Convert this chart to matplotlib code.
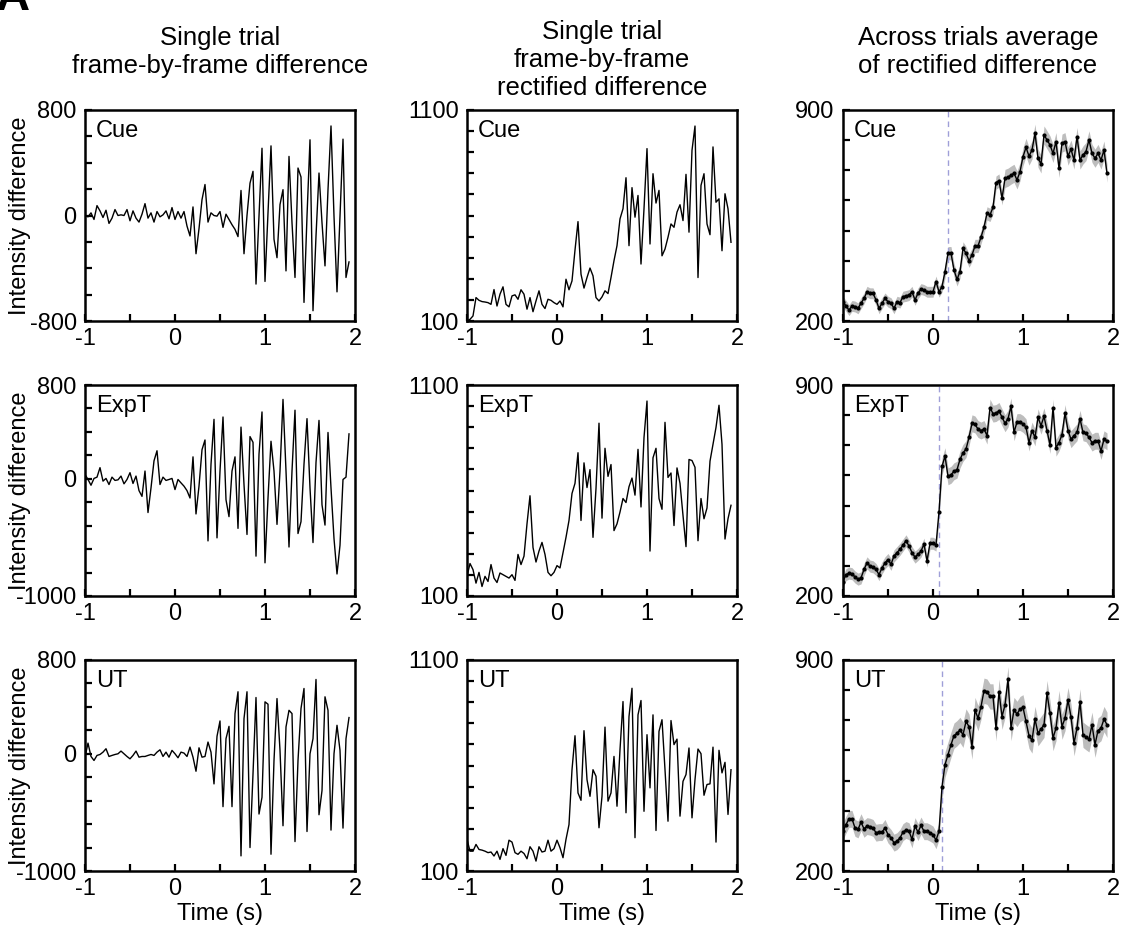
import numpy as np
import matplotlib
matplotlib.use("Agg")
import matplotlib.pyplot as plt
from matplotlib.ticker import FixedLocator, FuncFormatter

plt.rcParams['font.family'] = ['Liberation Sans', 'DejaVu Sans']

# ---------------- data (sampled at 30 frames/s from t = -1 s) ----------------
frame_rate = 30.0
t_start = -1.0

cue_diff = [0, -10, 20, -30, 75, 35, -15, 40, -60, -20, 45, 0, 5, 0, 45, -40, 35, -20, -50, 10,
            90, -20, 20, -50, 30, -10, 5, 35, -25, 60, -30, 30, -20, 30, -80, -155, 65, -290, -100, 120,
            235, -50, 20, 0, -5, 30, -90, 10, -30, -70, -105, -160, 190, -290, 0, 245, 335, -520, -5, 510,
            -500, 20, 528, -180, -320, 83, 196, -420, 448, -55, -470, 360, 292, -659, -5, 574, -722, -156, 322, -55,
            -382, 196, 679, -5, -579, -5, 579, -470, -352]
cue_rect = [100, 108, 124, 211, 198, 192, 190, 187, 179, 249,
            171, 227, 262, 179, 167, 219, 224, 203, 248, 227,
            156, 211, 144, 195, 243, 179, 159, 203, 198, 187,
            179, 195, 167, 298, 248, 290, 436, 571, 322, 256,
            306, 351, 314, 211, 195, 214, 243, 230, 306, 386,
            457, 584, 632, 779, 457, 732, 592, 695, 370, 632,
            917, 465, 798, 659, 719, 409, 441, 497, 560, 544,
            616, 651, 576, 795, 521, 909, 1024, 306, 743, 798,
            560, 509, 925, 663, 679, 433, 703, 632, 473]
cue_avg = [264, 250, 236, 250, 248, 242, 259, 275, 297, 292,
           292, 270, 242, 259, 275, 264, 259, 242, 264, 261,
           281, 283, 286, 297, 270, 292, 306, 303, 297, 297,
           297, 331, 297, 314, 364, 425, 425, 369, 338, 364,
           441, 425, 400, 419, 449, 449, 478, 511, 557, 552,
           577, 659, 666, 607, 673, 677, 684, 690, 668, 695,
           745, 776, 747, 767, 823, 740, 721, 817, 801, 784,
           756, 795, 706, 790, 795, 747, 770, 734, 812, 734,
           751, 762, 801, 756, 740, 756, 734, 767, 690]

expt_diff = [37, -6, -55, 3, 14, 95, -20, 3, -49, 14,
             -14, -9, 23, -43, -6, 52, -40, 23, -101, -150,
             66, -288, -78, 153, 239, -49, 14, -14, -6, 3,
             -92, -6, -35, -63, -101, -164, 187, -300, -63, 248,
             331, -530, 124, 507, -504, 66, 527, -179, -323, 66,
             187, -423, 441, -49, -475, 360, 311, -660, 210, 570,
             -717, -164, 320, 66, -389, 66, 677, 66, -582, 66,
             585, -467, -366, 124, 513, -78, -544, 138, 498, -222,
             -395, 395, -78, -510, -812, -567, -6, 14, 383]
expt_rect = [193, 254, 225, 161, 212, 145, 193, 169, 249, 185,
             164, 209, 201, 193, 185, 201, 174, 297, 249, 289,
             442, 575, 330, 261, 313, 354, 297, 212, 196, 212,
             244, 233, 305, 378, 458, 586, 634, 779, 458, 731,
             614, 699, 378, 610, 919, 469, 800, 667, 723, 410,
             442, 498, 562, 543, 618, 659, 578, 795, 522, 851,
             1024, 313, 755, 800, 562, 511, 923, 662, 683, 434,
             707, 634, 482, 334, 747, 742, 710, 362, 562, 466,
             517, 739, 819, 899, 1004, 819, 370, 466, 530]
expt_avg = [248, 271, 276, 274, 263, 256, 260, 288, 310, 299,
            297, 288, 271, 293, 310, 321, 305, 333, 344, 355,
            369, 383, 366, 344, 329, 338, 349, 372, 316, 375,
            375, 369, 479, 630, 664, 597, 602, 614, 619, 653,
            675, 687, 726, 773, 769, 754, 749, 754, 732, 825,
            805, 807, 814, 793, 773, 788, 829, 743, 777, 777,
            771, 760, 709, 749, 726, 793, 765, 796, 749, 701,
            825, 692, 709, 735, 807, 749, 720, 732, 743, 788,
            743, 740, 726, 709, 715, 715, 681, 720, 713]

ut_diff = [-29, 91, -23, -57, -14, -6, 14, 43, -23, -14,
           -6, 0, 23, 0, -23, -43, -14, 23, -29, -23,
           -23, -14, -6, -14, 14, 34, -23, 14, -29, 29,
           0, -34, 14, 6, -23, 57, -29, -149, 51, -29,
           -23, 100, 14, -257, 149, 280, -451, 129, 234, -451,
           343, 529, -871, 300, 529, -800, -171, 480, -514, -371,
           443, 423, -857, -57, 471, 29, -614, 229, 371, 343,
           -749, -57, 386, 557, -663, 0, 129, 634, -520, -314,
           486, 371, -651, 0, 243, 29, -634, 129, 309]
ut_rect = [250, 194, 194, 226, 202, 199, 194, 187, 190, 171,
           194, 155, 206, 174, 246, 237, 187, 179, 194, 183,
           158, 215, 194, 147, 215, 190, 194, 246, 194, 206,
           246, 210, 163, 250, 320, 580, 741, 470, 435, 765,
           533, 454, 580, 549, 305, 454, 782, 431, 470, 643,
           407, 675, 903, 376, 832, 966, 258, 840, 908, 383,
           746, 494, 840, 292, 762, 817, 580, 336, 813, 699,
           725, 360, 525, 557, 683, 352, 533, 678, 656, 459,
           510, 513, 687, 237, 672, 565, 615, 368, 580]
ut_avg = [332, 354, 373, 373, 343, 338, 362, 340, 349, 347,
          343, 327, 329, 329, 343, 321, 310, 294, 299, 310,
          329, 336, 332, 305, 349, 329, 351, 332, 332, 327,
          321, 302, 332, 479, 553, 586, 619, 649, 657, 668,
          652, 696, 679, 613, 734, 707, 745, 798, 795, 779,
          779, 674, 795, 712, 751, 836, 674, 734, 721, 737,
          743, 696, 649, 633, 704, 657, 671, 685, 790, 723,
          641, 674, 757, 679, 707, 767, 712, 624, 674, 762,
          652, 644, 637, 685, 619, 666, 674, 704, 685]

# SEM levels (value, number of frames)
cue_sem_levels, cue_sem_counts = [18, 22, 30], [34, 20, 35]
expt_sem_levels, expt_sem_counts = [20, 28], [32, 57]
ut_sem_levels, ut_sem_counts = [28, 42], [33, 56]

onset_times = [0.17, 0.07, 0.10]   # dashed marker in average panels
conditions = ["Cue", "ExpT", "UT"]
col_titles = ["Single trial\nframe-by-frame difference",
              "Single trial\nframe-by-frame\nrectified difference",
              "Across trials average\nof rectified difference"]

diff_series = [cue_diff, expt_diff, ut_diff]
rect_series = [cue_rect, expt_rect, ut_rect]
avg_series = [cue_avg, expt_avg, ut_avg]
sem_series = [(cue_sem_levels, cue_sem_counts), (expt_sem_levels, expt_sem_counts),
              (ut_sem_levels, ut_sem_counts)]

diff_ylims = [(-800, 800), (-1000, 800), (-1000, 800)]
diff_labels = [[-800, 0, 800], [-1000, 0, 800], [-1000, 0, 800]]

# ---------------- figure ----------------
W, H = 1122, 932
fig = plt.figure(figsize=(W / 100, H / 100), dpi=100)

lefts = [85, 467, 843]
tops = [110, 385, 660]
aw, ah = 270, 211

FS = 17


def make_ax(col, row):
    l = lefts[col] / W
    b = 1 - (tops[row] + ah) / H
    ax = fig.add_axes([l, b, aw / W, ah / H])
    for s in ax.spines.values():
        s.set_linewidth(1.8)
    ax.tick_params(direction='in', length=5, width=1.6, labelsize=FS,
                   top=False, right=False)
    ax.tick_params(axis='x', pad=5)
    ax.tick_params(axis='y', pad=6)
    ax.set_xlim(-1, 2)
    ax.xaxis.set_major_locator(FixedLocator([-1, -0.5, 0, 0.5, 1, 1.5, 2]))
    ax.xaxis.set_major_formatter(FuncFormatter(
        lambda v, p: f"{int(round(v))}" if abs(v - round(v)) < 1e-6 else ""))
    return ax


def set_y(ax, lo, hi, step, labels):
    ax.set_ylim(lo, hi)
    ax.yaxis.set_major_locator(FixedLocator(list(np.arange(lo, hi + step / 2, step))))
    ax.yaxis.set_major_formatter(FuncFormatter(
        lambda v, p: f"{int(round(v))}" if int(round(v)) in labels else ""))


for row in range(3):
    # column 1: frame-by-frame difference
    y = np.array(diff_series[row], float)
    t = t_start + np.arange(len(y)) / frame_rate
    ax = make_ax(0, row)
    ax.plot(t, y, color='black', lw=1.0)
    lo, hi = diff_ylims[row]
    set_y(ax, lo, hi, 200, diff_labels[row])
    ax.text(0.04, 0.9, conditions[row], transform=ax.transAxes, fontsize=FS,
            va='center', ha='left')
    if row == 2:
        ax.set_xlabel("Time (s)", fontsize=FS, labelpad=2)
    fig.text(20 / W, 1 - (tops[row] + ah / 2) / H, "Intensity difference",
             rotation=90, va='center', ha='center', fontsize=FS)

    # column 2: rectified difference
    y = np.array(rect_series[row], float)
    t = t_start + np.arange(len(y)) / frame_rate
    ax = make_ax(1, row)
    ax.plot(t, y, color='black', lw=1.0)
    set_y(ax, 100, 1100, 100, [100, 1100])
    ax.text(0.04, 0.9, conditions[row], transform=ax.transAxes, fontsize=FS,
            va='center', ha='left')
    if row == 2:
        ax.set_xlabel("Time (s)", fontsize=FS, labelpad=2)

    # column 3: across-trials average
    y = np.array(avg_series[row], float)
    t = t_start + np.arange(len(y)) / frame_rate
    lv, ct = sem_series[row]
    sem = np.repeat(lv, ct).astype(float)
    ax = make_ax(2, row)
    ax.fill_between(t, y - sem, y + sem, color='#bdbdbd', lw=0, zorder=1)
    ax.axvline(onset_times[row], color='#9f9fd8', lw=1.0, ls=(0, (4, 3)), zorder=2)
    ax.plot(t, y, color='black', lw=1.0, marker='o', ms=2.0, zorder=3)
    set_y(ax, 200, 900, 100, [200, 900])
    ax.text(0.04, 0.9, conditions[row], transform=ax.transAxes, fontsize=FS,
            va='center', ha='left')
    if row == 2:
        ax.set_xlabel("Time (s)", fontsize=FS, labelpad=2)

# column titles
title_y_bottom = [78, 100, 78]
for col in range(3):
    fig.text((lefts[col] + aw / 2) / W, 1 - title_y_bottom[col] / H, col_titles[col],
             ha='center', va='bottom', fontsize=18.5, linespacing=1.2)

# panel letter (mostly cropped in the reference)
fig.text(-0.004, 1 - 10 / H, "A", fontsize=34, fontweight='bold', ha='left', va='baseline')

fig.savefig("out.png", dpi=100)
